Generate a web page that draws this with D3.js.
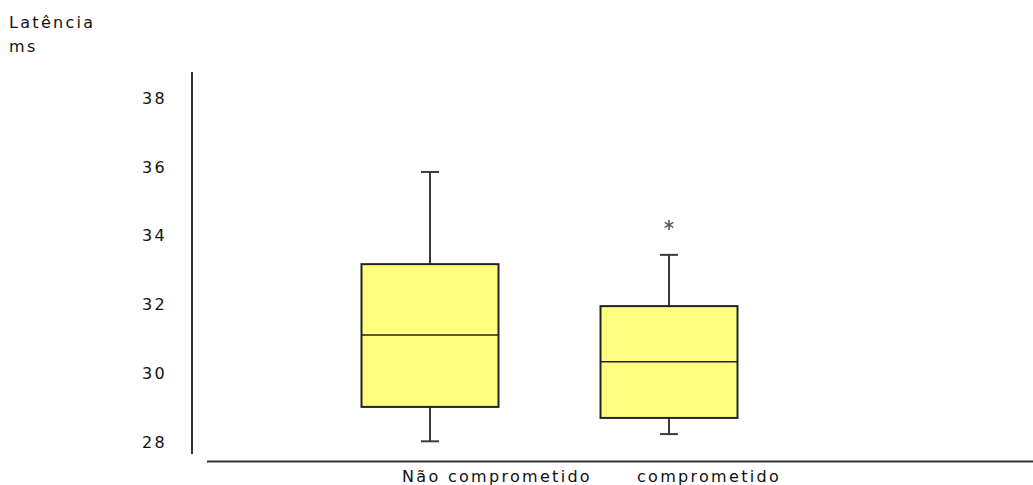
<!DOCTYPE html>
<html>
<head>
<meta charset="utf-8">
<script src="https://cdn.jsdelivr.net/npm/d3@7"></script>
<style>
  html, body { margin: 0; padding: 0; background: #fff; }
  svg { display: block; }
  text { font-family: "DejaVu Sans", "Liberation Sans", sans-serif; font-size: 16px; fill: #111; letter-spacing: 2.3px; }
</style>
</head>
<body>
<svg id="chart" width="1033" height="485"></svg>
<script>
// Latência (ms) por grupo
const categories = ["Não comprometido", "comprometido"];
const whiskerLow  = [28.02, 28.23];
const q1          = [29.02, 28.70];
const median      = [31.11, 30.33];
const q3          = [33.17, 31.95];
const whiskerHigh = [35.85, 33.44];
const outliers    = [[], [34.31]];
const yTicks      = [28, 30, 32, 34, 36, 38];

const svg = d3.select("#chart");

const y = d3.scaleLinear().domain([28, 38]).range([442, 98]);
const x = d3.scalePoint().domain(categories).range([430, 669]);
const boxW = 137, capW = 18;
const labelShift = [67, 40];

// Y axis
svg.append("line")
  .attr("x1", 192).attr("x2", 192).attr("y1", 72).attr("y2", 454)
  .attr("stroke", "#333").attr("stroke-width", 2);

svg.append("g").selectAll("text").data(yTicks).join("text")
  .attr("x", 167).attr("y", d => y(d))
  .attr("dy", "0.36em")
  .attr("text-anchor", "end")
  .text(d => d);

// X axis baseline
svg.append("line")
  .attr("x1", 207).attr("x2", 1033).attr("y1", 461.5).attr("y2", 461.5)
  .attr("stroke", "#333").attr("stroke-width", 2);

svg.append("g").selectAll("text").data(categories).join("text")
  .attr("x", (d, i) => x(d) + labelShift[i]).attr("y", 482)
  .attr("text-anchor", "middle")
  .text(d => d);

// Axis title
svg.append("text").attr("x", 9).attr("y", 28).text("Latência");
svg.append("text").attr("x", 9).attr("y", 52).text("ms");

// Boxes
const g = svg.append("g");
categories.forEach((c, i) => {
  const cx = x(c);
  // whiskers
  g.append("line")
    .attr("x1", cx).attr("x2", cx)
    .attr("y1", y(whiskerHigh[i])).attr("y2", y(q3[i]))
    .attr("stroke", "#3a3a3a").attr("stroke-width", 2);
  g.append("line")
    .attr("x1", cx).attr("x2", cx)
    .attr("y1", y(q1[i])).attr("y2", y(whiskerLow[i]))
    .attr("stroke", "#3a3a3a").attr("stroke-width", 2);
  // caps
  [whiskerHigh[i], whiskerLow[i]].forEach(v => {
    g.append("line")
      .attr("x1", cx - capW / 2).attr("x2", cx + capW / 2)
      .attr("y1", y(v)).attr("y2", y(v))
      .attr("stroke", "#3a3a3a").attr("stroke-width", 2);
  });
  // box
  g.append("rect")
    .attr("x", cx - boxW / 2).attr("width", boxW)
    .attr("y", y(q3[i])).attr("height", y(q1[i]) - y(q3[i]))
    .attr("fill", "#ffff80").attr("stroke", "#222").attr("stroke-width", 2);
  // median
  g.append("line")
    .attr("x1", cx - boxW / 2).attr("x2", cx + boxW / 2)
    .attr("y1", y(median[i])).attr("y2", y(median[i]))
    .attr("stroke", "#222").attr("stroke-width", 1.5);
  // outliers
  outliers[i].forEach(v => {
    g.append("path")
      .attr("transform", `translate(${cx},${y(v)})`)
      .attr("d", d3.symbol(d3.symbolAsterisk, 70)())
      .attr("fill", "none").attr("stroke", "#555").attr("stroke-width", 1.5);
  });
});
</script>
</body>
</html>
